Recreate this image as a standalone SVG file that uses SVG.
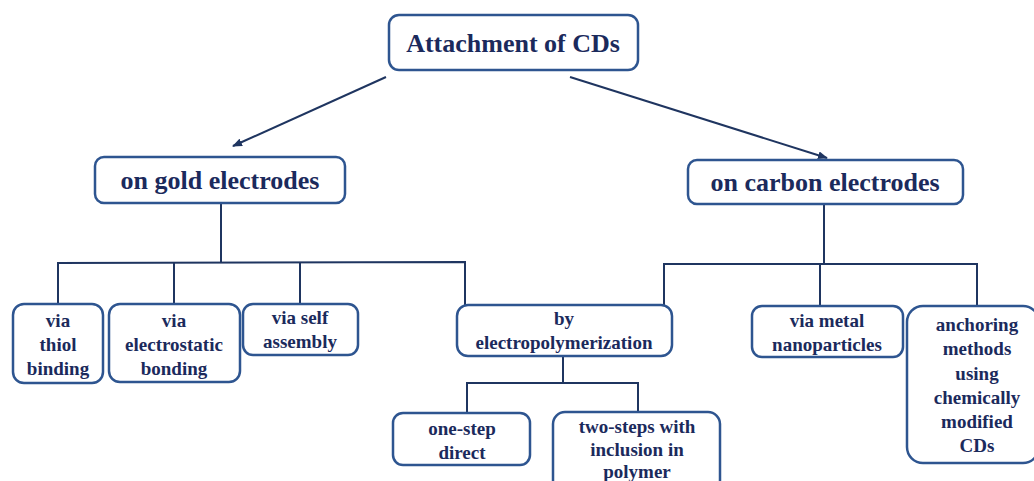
<svg xmlns="http://www.w3.org/2000/svg" width="1034" height="481" viewBox="0 0 1034 481" font-family="Liberation Serif, Times New Roman, serif">
<defs>
<style>
.box{fill:#fff;stroke:#2e5590;stroke-width:2.5}
.ln{fill:none;stroke:#1f3560;stroke-width:2}
text{font-weight:bold;fill:#1b2a5c;text-anchor:middle}
.big{font-size:26px}
.sm{font-size:19px}
</style>
<marker id="ah" markerWidth="10" markerHeight="8" refX="9" refY="4" orient="auto" markerUnits="userSpaceOnUse">
<path d="M0,0 L10,4 L0,8 Z" fill="#1f3560"/>
</marker>
</defs>
<rect width="1034" height="481" fill="#fff"/>
<g id="connectors">
<line class="ln" x1="386" y1="77" x2="233" y2="146" marker-end="url(#ah)"/>
<line class="ln" x1="570" y1="77" x2="827" y2="158" marker-end="url(#ah)"/>
<polyline class="ln" points="221,204 221,262"/>
<polyline class="ln" points="58,304 58,263 465,262 465,305"/>
<line class="ln" x1="174" y1="263" x2="174" y2="304"/>
<line class="ln" x1="300" y1="263" x2="300" y2="304"/>
<line class="ln" x1="563" y1="356" x2="563" y2="383"/>
<polyline class="ln" points="467,413 467,383 638,383 638,412"/>
<line class="ln" x1="824" y1="205" x2="824" y2="264"/>
<polyline class="ln" points="664,306 664,264 977,264 977,306"/>
<line class="ln" x1="820" y1="264" x2="820" y2="306"/>
</g>
<g id="n-top"><rect class="box" x="389" y="15" width="249" height="55" rx="10"/><text class="big" x="513" y="52">Attachment of CDs</text></g>
<g id="n-gold"><rect class="box" x="95" y="157" width="250" height="46" rx="9"/><text class="big" x="220" y="189">on gold electrodes</text></g>
<g id="n-carbon"><rect class="box" x="688" y="160" width="275" height="44" rx="9"/><text class="big" x="825" y="191">on carbon electrodes</text></g>
<g id="n-thiol"><rect class="box" x="13" y="304" width="90" height="79" rx="11"/><text class="sm" x="58" y="327">via</text><text class="sm" x="58" y="351">thiol</text><text class="sm" x="58" y="375">binding</text></g>
<g id="n-electrostatic"><rect class="box" x="109" y="304" width="131" height="78" rx="11"/><text class="sm" x="174" y="327">via</text><text class="sm" x="174" y="351">electrostatic</text><text class="sm" x="174" y="375">bonding</text></g>
<g id="n-self"><rect class="box" x="243" y="304" width="115" height="51" rx="10"/><text class="sm" x="300" y="324">via self</text><text class="sm" x="300" y="348">assembly</text></g>
<g id="n-electropoly"><rect class="box" x="457" y="305" width="215" height="51" rx="11"/><text class="sm" x="564" y="325">by</text><text class="sm" x="564" y="349">electropolymerization</text></g>
<g id="n-onestep"><rect class="box" x="393" y="413" width="137" height="52" rx="10"/><text class="sm" x="462" y="435">one-step</text><text class="sm" x="462" y="459">direct</text></g>
<g id="n-twostep"><rect class="box" x="553" y="412" width="167" height="80" rx="12"/><text class="sm" x="637" y="433">two-steps with</text><text class="sm" x="637" y="456">inclusion in</text><text class="sm" x="637" y="478">polymer</text></g>
<g id="n-metal"><rect class="box" x="752" y="306" width="151" height="51" rx="10"/><text class="sm" x="827" y="327">via metal</text><text class="sm" x="827" y="351">nanoparticles</text></g>
<g id="n-anchor"><rect class="box" x="907" y="306" width="132" height="157" rx="16"/><text class="sm" x="977" y="331">anchoring</text><text class="sm" x="977" y="355">methods</text><text class="sm" x="977" y="380">using</text><text class="sm" x="977" y="404">chemically</text><text class="sm" x="977" y="428">modified</text><text class="sm" x="977" y="452">CDs</text></g>
</svg>
